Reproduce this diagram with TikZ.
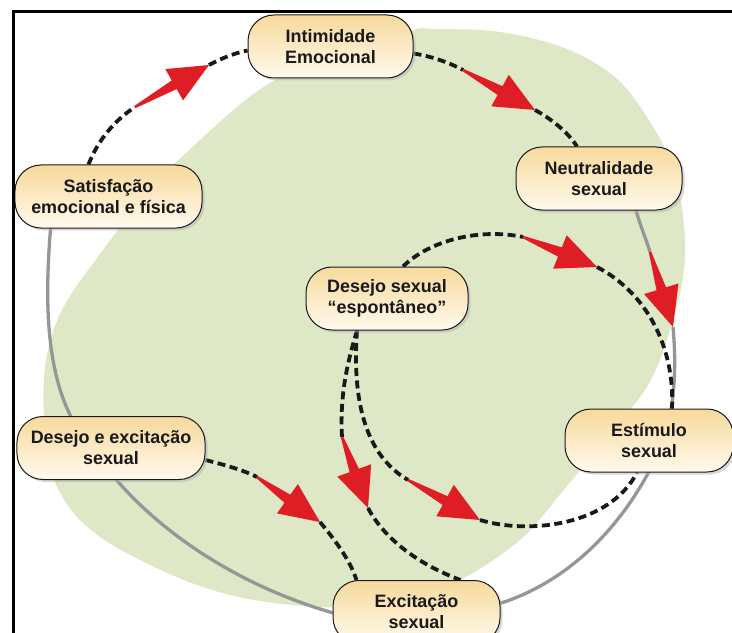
\documentclass[tikz,border=0pt]{standalone}
\usepackage{fontspec}
\setmainfont{Liberation Sans}
\usetikzlibrary{calc,shadows,backgrounds}

\definecolor{blobgreen}{RGB}{222,232,199}
\definecolor{arrowred}{RGB}{222,30,36}
\definecolor{loopgrey}{RGB}{150,150,150}
\definecolor{boxtop}{RGB}{247,217,155}
\definecolor{boxbot}{RGB}{255,250,238}

\tikzset{
  stagebox/.style={draw=black!90, line width=1bp, rounded corners=26bp,
    minimum height=63bp, align=center, top color=boxtop, bottom color=boxbot,
    font=\fontsize{18}{21}\selectfont\bfseries, text=black!90, inner sep=2bp,
    drop shadow={shadow xshift=2.5bp, shadow yshift=-2.5bp, fill=black!30}},
  dashlink/.style={draw=black!90, line width=3.8bp, dash pattern=on 8bp off 4.5bp},
  greylink/.style={draw=loopgrey, line width=3.3bp},
  framerule/.style={draw=black, line width=2.7bp},
}

\newcommand{\redarr}[2]{%
  \coordinate (arrbase) at ($(#2)!40bp!(#1)$);
  \fill[arrowred] ($(#1)!1.2bp!90:(#2)$) -- ($(arrbase)!5bp!90:(#2)$)
    -- ($(arrbase)!18bp!90:(#2)$) -- (#2)
    -- ($(arrbase)!18bp!-90:(#2)$) -- ($(arrbase)!5bp!-90:(#2)$)
    -- ($(#1)!1.2bp!-90:(#2)$) -- cycle;%
}

\begin{document}
\begin{tikzpicture}[x=1bp,y=-1bp]
\useasboundingbox (0,0) rectangle (732,633);

% stages
\node[stagebox, minimum width=165bp] (int) at (330.5,46.5) {Intimidade\\Emocional};
\node[stagebox, minimum width=166bp] (neu) at (599,178.5) {Neutralidade\\sexual};
\node[stagebox, minimum width=187bp] (sat) at (108.5,196.5) {Satisfação\\emocional e física};
\node[stagebox, minimum width=162bp] (des) at (387,298.5) {Desejo sexual\\“espontâneo”};
\node[stagebox, minimum width=188bp] (dex) at (111,448) {Desejo e excitação\\sexual};
\node[stagebox, minimum width=168bp] (est) at (649,440.5) {Estímulo\\sexual};
\node[stagebox, minimum width=167bp] (exc) at (416.5,612) {Excitação\\sexual};

% arrow tails / tips
\coordinate (t1) at (135,107); \coordinate (p1) at (209,65);
\coordinate (t2) at (463,70);  \coordinate (p2) at (535,110);
\coordinate (t3) at (650,252); \coordinate (p3) at (673,327);
\coordinate (t4) at (523,237); \coordinate (p4) at (597,267);
\coordinate (t5) at (257,477); \coordinate (p5) at (320,522);
\coordinate (t6) at (342,437); \coordinate (p6) at (368,508);
\coordinate (t7) at (408,480); \coordinate (p7) at (480,520);

\begin{scope}[on background layer]
  % green blob
  \fill[blobgreen] plot[smooth cycle, tension=0.6] coordinates {
    (413,30) (433,29) (500,32) (567,49) (617,79) (650,122) (672,165)
    (683,215) (684,270) (670,330) (648,385) (605,440) (562,492)
    (520,540) (460,580) (400,603) (320,607) (230,595) (150,565)
    (85,525) (52,475) (44,420) (46,360) (62,310) (97,258)
    (150,190) (200,140) (262,88) (330,55)};

  % grey loop
  \draw[greylink] ([xshift=-55bp]sat.center) .. controls (44,290) and (40,390) .. ([xshift=-19bp]dex.center);
  \draw[greylink] ([xshift=-19bp]dex.center) .. controls (140,520) and (230,585) .. ([xshift=-76bp,yshift=-3bp]exc.center);
  \draw[greylink] ([xshift=40bp]exc.center) .. controls (530,606) and (615,555) .. ([xshift=15bp]est.center);
  \draw[greylink] ([xshift=15bp]est.center) .. controls (676,400) and (676,360) .. (p3);
  \draw[greylink] (t3) .. controls (644,232) and (634,214) .. ([xshift=28bp,yshift=10bp]neu.center);

  % dashed links
  \draw[dashlink] ([xshift=-20bp]sat.north) .. controls (98,140) and (115,120) .. (t1);
  \draw[dashlink] (p1) .. controls (222,58) and (235,53) .. ([yshift=-4bp]int.west);
  \draw[dashlink] ([yshift=-7bp]int.east) .. controls (430,56) and (448,62) .. (t2);
  \draw[dashlink] (p2) .. controls (550,118) and (568,132) .. ([xshift=-22bp]neu.north);
  \draw[dashlink] ([xshift=16bp]des.north) .. controls (430,240) and (480,228) .. (t4);
  \draw[dashlink] (p4) .. controls (645,292) and (675,345) .. ([xshift=23bp]est.north);
  \draw[dashlink] ([xshift=-30bp]des.south) .. controls (352,400) and (365,455) .. (t7);
  \draw[dashlink] (p7) .. controls (530,535) and (610,525) .. ([xshift=-12bp]est.south);
  \draw[dashlink] ([xshift=-30bp]des.south) .. controls (345,370) and (340,400) .. (t6);
  \draw[dashlink] (p6) .. controls (385,540) and (420,565) .. ([xshift=44bp]exc.north);
  \draw[dashlink] ([yshift=-12bp]dex.east) .. controls (225,465) and (243,470) .. (t5);
  \draw[dashlink] (p5) .. controls (335,540) and (350,560) .. ([xshift=-60bp]exc.north);

  % red arrows
  \redarr{t1}{p1}
  \redarr{t2}{p2}
  \redarr{t3}{p3}
  \redarr{t4}{p4}
  \redarr{t5}{p5}
  \redarr{t6}{p6}
  \redarr{t7}{p7}
\end{scope}

% frame
\coordinate (ftl) at (13.5,11.3);
\coordinate (ftr) at (732,11.3);
\coordinate (fbl) at (13.5,633);
\draw[framerule] (fbl) -- (ftl) -- (ftr);
\end{tikzpicture}
\end{document}
